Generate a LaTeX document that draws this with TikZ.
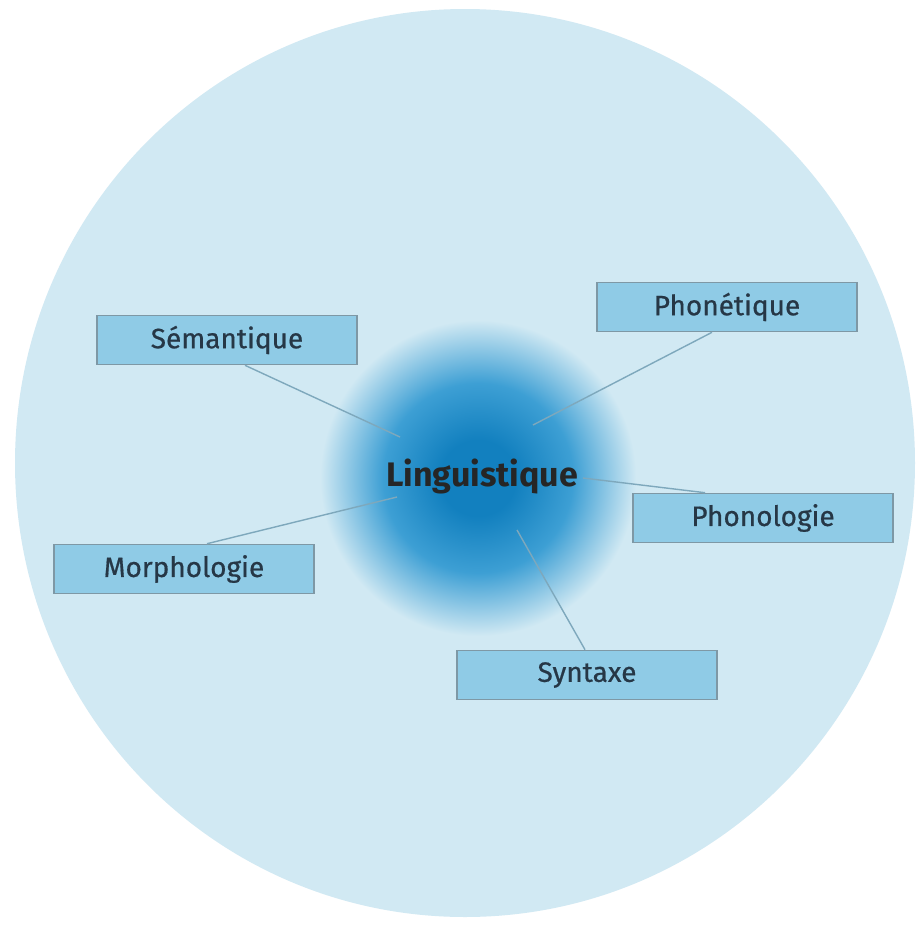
\documentclass[tikz,border=0pt]{standalone}
\usepackage{fontspec}
\setmainfont{Fira Sans}
\newfontfamily\labelfont[FakeBold=0.6]{Fira Sans}
\definecolor{bgc}{HTML}{D1E9F3}
\definecolor{corec}{HTML}{1280BF}
\definecolor{midc}{HTML}{3D9FD4}
\definecolor{boxfill}{HTML}{8FCBE6}
\definecolor{boxline}{HTML}{7E98A5}
\definecolor{linkc}{HTML}{7EA8BC}
\definecolor{txtc}{HTML}{263746}
\pgfdeclareradialshading{blob}{\pgfpointorigin}{color(0bp)=(corec); color(6bp)=(corec); color(15bp)=(midc); color(25bp)=(bgc)}
\tikzset{
  topic/.style={draw=boxline, line width=0.8pt, fill=boxfill, minimum width=130pt, minimum height=24.5pt, inner sep=0pt, font=\labelfont\fontsize{14}{16}\selectfont, text=txtc},
  link/.style={draw=linkc, line width=0.7pt},
}
\begin{document}
\begin{tikzpicture}[x=0.5pt,y=-0.5pt]
\useasboundingbox (0,0) rectangle (922,927);
\fill[white] (0,0) rectangle (922,927);
\fill[bgc] (465,463) circle[x radius=450, y radius=454];
\shade[shading=blob] (478,478) circle (158);
\node[topic] (sem) at (227,340) {Sémantique};
\node[topic] (phe) at (727,307) {Phonétique};
\node[topic] (mor) at (184,569) {Morphologie};
\node[topic] (pho) at (763,518) {Phonologie};
\node[topic] (syn) at (587,675) {Syntaxe};
\coordinate (semEnd) at (400,437);
\coordinate (pheEnd) at (533,425);
\coordinate (phoEnd) at (583,478);
\coordinate (morEnd) at (397,497);
\coordinate (synEnd) at (517,530);
\draw[link] ([xshift=9pt]sem.south) -- (semEnd);
\draw[link] ([xshift=-7.5pt]phe.south) -- (pheEnd);
\draw[link] ([xshift=-29pt]pho.north) -- (phoEnd);
\draw[link] ([xshift=11.5pt]mor.north) -- (morEnd);
\draw[link] ([xshift=-1pt]syn.north) -- (synEnd);
\node[font=\bfseries\fontsize{17}{19}\selectfont, text=black!85] (lin) at (482,476) {Linguistique};
\end{tikzpicture}
\end{document}
